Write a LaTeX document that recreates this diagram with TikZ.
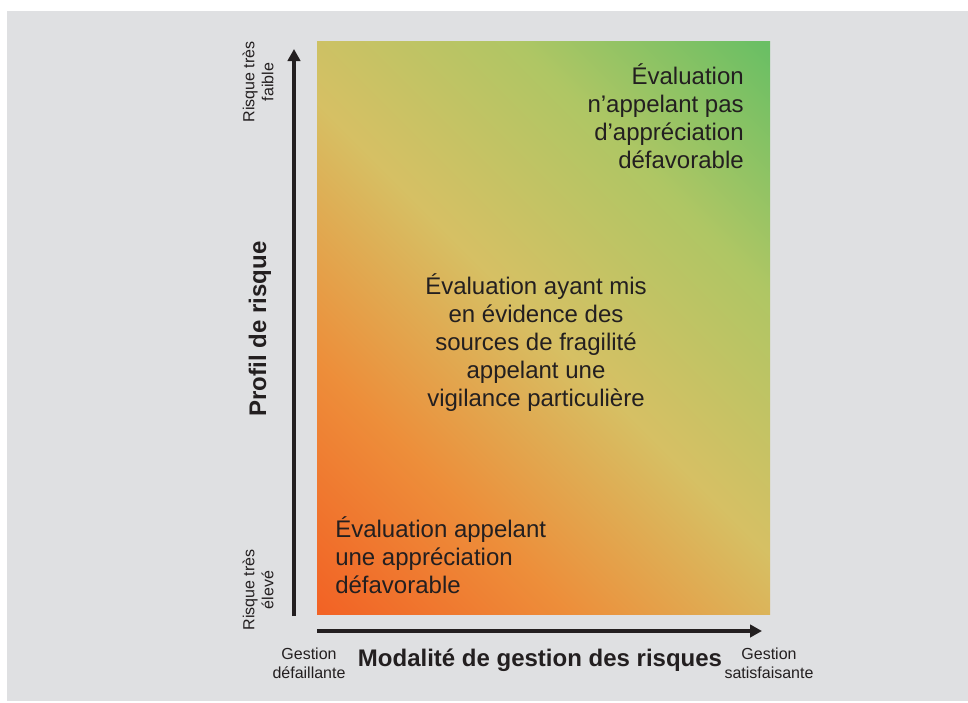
\documentclass[tikz,border=0pt]{standalone}
\usepackage{fontspec}
\setmainfont{Liberation Sans}
\usetikzlibrary{positioning,calc}
\usetikzlibrary{arrows.meta}

\definecolor{bggray}{RGB}{223,224,226}
\definecolor{txtgray}{RGB}{35,31,32}
\definecolor{riskred}{RGB}{242,99,37}
\definecolor{riskorange}{RGB}{237,142,58}
\definecolor{riskyellow}{RGB}{214,192,100}
\definecolor{risklime}{RGB}{175,198,100}
\definecolor{riskgreen}{RGB}{106,191,100}

\pgfdeclarehorizontalshading{riskshade}{100bp}{color(0bp)=(riskred); color(15bp)=(riskred); color(32bp)=(riskorange); color(50bp)=(riskyellow); color(68bp)=(risklime); color(85bp)=(riskgreen); color(100bp)=(riskgreen)}

\begin{document}
\begin{tikzpicture}[x=0.025cm, y=-0.025cm,
  big/.style={font=\fontsize{17.07}{19.9}\selectfont, text=txtgray, inner sep=0pt},
  bigbold/.style={font=\fontsize{17.07}{19.9}\selectfont\bfseries, text=txtgray, inner sep=0pt},
  small/.style={font=\fontsize{11.38}{13.5}\selectfont, text=txtgray, inner sep=0pt, align=center},
  axisarrow/.style={line width=0.1cm, txtgray, -{Triangle[length=0.3cm, width=0.31cm]}}]
  % \draw[step=100, gray!20!white, very thin] (0,0) grid (968,703);

  \useasboundingbox (0,0) rectangle (968,703);
  \fill[white] (0,0) rectangle (968,703);
  \fill[bggray] (7,11) rectangle (968,701);

  % risk matrix
  \coordinate (sw) at (317,614);
  \coordinate (ne) at (770,42);
  \shade[shading=riskshade, shading angle=45] (sw) rectangle (ne);

  % base anchor = baseline of the last line
  \node[big, align=right, anchor=base east] at (744,168) (good)
    {Évaluation\\n’appelant pas\\d’appréciation\\défavorable};
  \node[big, align=center, anchor=base] at (536,406) (watch)
    {Évaluation ayant mis\\en évidence des\\sources de fragilité\\appelant une\\vigilance particulière};
  \node[big, align=left, anchor=base west] at (335,593) (bad)
    {Évaluation appelant\\une appréciation\\défavorable};

  % axes
  \coordinate (yfoot) at (294,616);
  \coordinate (ytip) at (294,49);
  \coordinate (xfoot) at (317,631);
  \coordinate (xtip) at (762,631);
  \draw[axisarrow] (yfoot) -- (ytip);
  \draw[axisarrow] (xfoot) -- (xtip);

  \node[bigbold, rotate=90] at (260,329) (ylab) {Profil de risque};
  \node[bigbold] at (540,660) (xlab) {Modalité de gestion des risques};

  \node[small, rotate=90] at (258,82) (ytop) {Risque très\\faible};
  \node[small, rotate=90] at (258,590) (ybot) {Risque très\\élevé};
  \node[small] at (309,663) (xleft) {Gestion\\défaillante};
  \node[small] at (769,663) (xright) {Gestion\\satisfaisante};

\end{tikzpicture}
\end{document}
